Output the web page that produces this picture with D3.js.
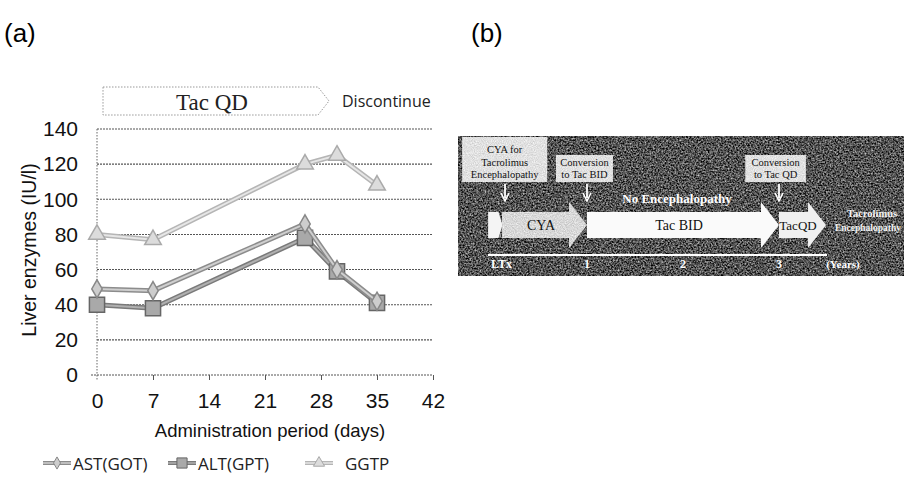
<!DOCTYPE html>
<html>
<head>
<meta charset="utf-8">
<script src="https://cdn.jsdelivr.net/npm/d3@7"></script>
<style>
  body { margin: 0; background: #fff; }
  svg { display: block; }
</style>
</head>
<body>
<svg id="chart" width="904" height="482"></svg>
<script>
// panel (a) data: liver enzymes over administration period
const days = [0, 7, 26, 30, 35];
const ast = [49, 48, 86, 60, 42];
const alt = [40, 38, 78, 59, 41];
const ggtpDays = [0, 7, 26, 30, 35];
const ggtp = [80, 77, 120, 125, 108];
const yTicks = [0, 20, 40, 60, 80, 100, 120, 140];
const xTicks = [0, 7, 14, 21, 28, 35, 42];

// panel (b) data: clinical course in years
const yearTicks = [0, 1, 2, 3];
const yearLabels = ["LTx", "1", "2", "3"];
const phases = [
  { name: "", from: -0.03, to: 0.12, fill: "#f4f4f4" },
  { name: "CYA", from: 0.115, to: 1, fill: "#d6d6d6" },
  { name: "Tac BID", from: 1, to: 3, fill: "#fafafa" },
  { name: "TacQD", from: 3, to: 3.49, fill: "#f0f0f0" }
];
const events = [
  { at: 0.146, lines: ["CYA for", "Tacrolimus", "Encephalopathy"], x0: -0.3, x1: 0.585 },
  { at: 1, lines: ["Conversion", "to Tac BID"], x0: 0.677, x1: 1.27 },
  { at: 3, lines: ["Conversion", "to Tac QD"], x0: 2.65, x1: 3.28 }
];

const svg = d3.select("#chart");
const defs = svg.append("defs");

function grain(id, a, b, freq) {
  const f = defs.append("filter").attr("id", id)
    .attr("x", 0).attr("y", 0).attr("width", 1).attr("height", 1)
    .attr("color-interpolation-filters", "sRGB");
  f.append("feTurbulence").attr("type", "fractalNoise")
    .attr("baseFrequency", freq).attr("numOctaves", 2).attr("seed", 7).attr("result", "n");
  f.append("feColorMatrix").attr("in", "n").attr("type", "matrix")
    .attr("values", `${a} 0 0 0 ${b}  ${a} 0 0 0 ${b}  ${a} 0 0 0 ${b}  0 0 0 0 1`)
    .attr("result", "g");
  f.append("feComposite").attr("in", "g").attr("in2", "SourceGraphic").attr("operator", "in");
}
grain("darkGrain", 1.25, -0.3, 0.6);
grain("lightGrain", 0.6, 0.5, 0.9);

// ---------- panel labels ----------
svg.append("text").attr("x", 4).attr("y", 42)
  .style("font-family", "Liberation Sans, Arial, sans-serif").style("font-size", "26px")
  .text("(a)");
svg.append("text").attr("x", 471).attr("y", 42)
  .style("font-family", "Liberation Sans, Arial, sans-serif").style("font-size", "26px")
  .text("(b)");

// ---------- panel (a) ----------
const x = d3.scaleLinear().domain([0, 42]).range([97, 433]);
const y = d3.scaleLinear().domain([0, 140]).range([375, 129]);
const sans = "Liberation Sans, Arial, sans-serif";

const grid = svg.append("g");
grid.selectAll("line").data(yTicks.filter(d => d > 0)).enter().append("line")
  .attr("x1", x(0)).attr("x2", x(42))
  .attr("y1", d => y(d)).attr("y2", d => y(d))
  .attr("stroke", "#555").attr("stroke-width", 1.1)
  .attr("stroke-dasharray", "2,1");

const yAxis = svg.append("g").attr("transform", `translate(${x(0)},0)`)
  .call(d3.axisLeft(y).tickValues(yTicks).tickSize(0).tickPadding(19));
yAxis.select(".domain").attr("stroke", "#666").attr("stroke-dasharray", "1.5,1.5");
yAxis.selectAll("text").style("font-family", sans).style("font-size", "21px").attr("fill", "#111");
yAxis.select(".domain").attr("d", `M0,${y(140)}V${y(0) + 5}`);

const xAxis = svg.append("g").attr("transform", `translate(0,${y(0)})`)
  .call(d3.axisBottom(x).tickValues(xTicks).tickSize(5).tickPadding(13));
xAxis.select(".domain").attr("stroke", "#555").attr("stroke-dasharray", "2,1").attr("d", `M${x(0) - 6},0H${x(42)}`);
xAxis.selectAll(".tick line").attr("stroke", "#555");
xAxis.selectAll(".tick").filter(d => d === 0).select("line").remove();
xAxis.selectAll("text").style("font-family", sans).style("font-size", "21px").attr("fill", "#111");

svg.append("text")
  .attr("transform", `translate(36,250) rotate(-90)`)
  .attr("text-anchor", "middle")
  .style("font-family", sans).style("font-size", "19.5px").attr("fill", "#111")
  .text("Liver enzymes (IU/l)");
svg.append("text").attr("x", 270).attr("y", 437).attr("text-anchor", "middle")
  .style("font-family", sans).style("font-size", "18.5px").attr("fill", "#111")
  .text("Administration period (days)");

// Tac QD bar
svg.append("path")
  .attr("d", "M103,87H318L329,101L318,115H103Z")
  .attr("fill", "none").attr("stroke", "#999").attr("stroke-width", 1)
  .attr("stroke-dasharray", "1.5,1.5");
svg.append("text").attr("x", 212).attr("y", 110).attr("text-anchor", "middle")
  .style("font-family", "Liberation Serif, Times New Roman, serif").style("font-size", "23px")
  .attr("fill", "#222").text("Tac QD");
svg.append("text").attr("x", 342).attr("y", 107)
  .style("font-family", "Open Sans, sans-serif").style("font-size", "16px")
  .attr("fill", "#222").text("Discontinue");

const series = [
  { name: "AST(GOT)", xs: days, ys: ast, outer: "#8c8c8c", inner: "#cfcfcf",
    sym: d3.symbolDiamond, size: 95, fill: "#cdcdcd", stroke: "#888" },
  { name: "ALT(GPT)", xs: days, ys: alt, outer: "#7a7a7a", inner: "#b0b0b0",
    sym: d3.symbolSquare, size: 230, fill: "#a9a9a9", stroke: "#666" },
  { name: "GGTP", xs: ggtpDays, ys: ggtp, outer: "#b5b5b5", inner: "#e6e6e6",
    sym: d3.symbolTriangle, size: 120, fill: "#dcdcdc", stroke: "#aaa" }
];

const line = d3.line().x(d => x(d[0])).y(d => y(d[1]));
series.slice().reverse().forEach(s => {
  const pts = s.xs.map((d, i) => [d, s.ys[i]]);
  const g = svg.append("g");
  g.append("path").attr("d", line(pts)).attr("fill", "none")
    .attr("stroke", s.outer).attr("stroke-width", 5);
  g.append("path").attr("d", line(pts)).attr("fill", "none")
    .attr("stroke", s.inner).attr("stroke-width", 2);
  g.selectAll(".m").data(pts).enter().append("path")
    .attr("transform", d => `translate(${x(d[0])},${y(d[1])})`)
    .attr("d", d3.symbol().type(s.sym).size(s.size))
    .attr("fill", s.fill).attr("stroke", s.stroke).attr("stroke-width", 1.5);
});

// legend
const legendX = [43, 168, 305];
series.forEach((s, i) => {
  const g = svg.append("g").attr("transform", `translate(${legendX[i]},463)`);
  g.append("line").attr("x1", 0).attr("x2", 28).attr("stroke", s.outer).attr("stroke-width", 4);
  g.append("line").attr("x1", 0).attr("x2", 28).attr("stroke", s.inner).attr("stroke-width", 1.5);
  g.append("path").attr("transform", "translate(14,0)")
    .attr("d", d3.symbol().type(s.sym).size(s.size * 0.45))
    .attr("fill", s.fill).attr("stroke", s.stroke).attr("stroke-width", 1);
  g.append("text").attr("x", i === 2 ? 40 : 30).attr("y", 6.5)
    .style("font-family", "Open Sans, sans-serif").style("font-size", "17px")
    .attr("fill", "#222").text(s.name);
});

// ---------- panel (b) ----------
const serif = "Liberation Serif, Times New Roman, serif";
const yr = d3.scaleLinear().domain([0, 3]).range([491, 779]);
const pb = svg.append("g");
pb.append("rect").attr("x", 458).attr("y", 136).attr("width", 446).attr("height", 140)
  .attr("fill", "#000").attr("filter", "url(#darkGrain)");

// event boxes and down arrows
events.forEach(e => {
  const top = e.lines.length === 3 ? 137 : 155;
  pb.append("rect").attr("x", yr(e.x0)).attr("y", top)
    .attr("width", yr(e.x1) - yr(e.x0)).attr("height", 182 - top)
    .attr("fill", "#000").attr("filter", "url(#lightGrain)");
  pb.append("rect").attr("x", yr(e.x0)).attr("y", top)
    .attr("width", yr(e.x1) - yr(e.x0)).attr("height", 182 - top)
    .attr("fill", "#f3f3f3").attr("opacity", 0.55);
  e.lines.forEach((t, i) => {
    pb.append("text").attr("x", (yr(e.x0) + yr(e.x1)) / 2)
      .attr("y", 182 - 4 - (e.lines.length - 1 - i) * 12.5)
      .attr("text-anchor", "middle")
      .style("font-family", serif).style("font-size", "10.5px").attr("fill", "#111")
      .text(t);
  });
  pb.append("line").attr("x1", yr(e.at)).attr("x2", yr(e.at)).attr("y1", 184).attr("y2", 198)
    .attr("stroke", "#fff").attr("stroke-width", 1.8);
  pb.append("path").attr("d", `M${yr(e.at) - 4},193L${yr(e.at)},201L${yr(e.at) + 4},193`)
    .attr("fill", "none").attr("stroke", "#fff").attr("stroke-width", 1.6);
});

// phase arrows
phases.forEach((p, i) => {
  const x0 = yr(p.from), x1 = yr(p.to);
  const head = i === 0 ? 4 : 18;
  const d = i === 0
    ? `M${x0},212H${x1 - head}L${x1},225L${x1 - head},238H${x0}Z`
    : `M${x0},212H${x1 - head}V202L${x1},225L${x1 - head},248V238H${x0}Z`;
  if (p.name === "CYA") {
    pb.append("path").attr("d", d).attr("fill", "#000").attr("filter", "url(#lightGrain)");
    pb.append("path").attr("d", d).attr("fill", "#e6e6e6").attr("opacity", 0.45);
  } else {
    pb.append("path").attr("d", d).attr("fill", p.fill);
  }
  if (p.name) {
    pb.append("text").attr("x", p.name === "CYA" ? 541 : p.name === "TacQD" ? 798 : (x0 + x1) / 2 - 4)
      .attr("y", 230).attr("text-anchor", "middle")
      .style("font-family", serif).style("font-size", p.name === "TacQD" ? "13px" : "14px")
      .attr("fill", "#111").text(p.name);
  }
});

pb.append("text").attr("x", 677).attr("y", 203).attr("text-anchor", "middle")
  .style("font-family", serif).style("font-size", "13px").style("font-weight", "bold")
  .attr("fill", "#fff").text("No Encephalopathy");
pb.append("text").attr("x", 872).attr("y", 217).attr("text-anchor", "middle")
  .style("font-family", serif).style("font-size", "10.5px").style("font-weight", "bold")
  .attr("fill", "#f2f2f2").text("Tacrolimus");
pb.append("text").attr("x", 901).attr("y", 231).attr("text-anchor", "end")
  .style("font-family", serif).style("font-size", "9.5px").style("font-weight", "bold")
  .attr("fill", "#f2f2f2").text("Encephalopathy");

// timeline
pb.append("line").attr("x1", 488).attr("x2", 827).attr("y1", 255).attr("y2", 255)
  .attr("stroke", "#fff").attr("stroke-width", 2);
pb.selectAll(".yl").data(yearTicks).enter().append("text")
  .attr("x", d => yr(d)).attr("y", 268)
  .attr("text-anchor", d => d === 0 ? "start" : "middle")
  .style("font-family", serif).style("font-size", "12px").style("font-weight", "bold")
  .attr("fill", "#fff").text((d, i) => yearLabels[i]);
pb.append("text").attr("x", 843).attr("y", 268).attr("text-anchor", "middle")
  .style("font-family", serif).style("font-size", "11px").style("font-weight", "bold")
  .attr("fill", "#fff").text("(Years)");
</script>
</body>
</html>
